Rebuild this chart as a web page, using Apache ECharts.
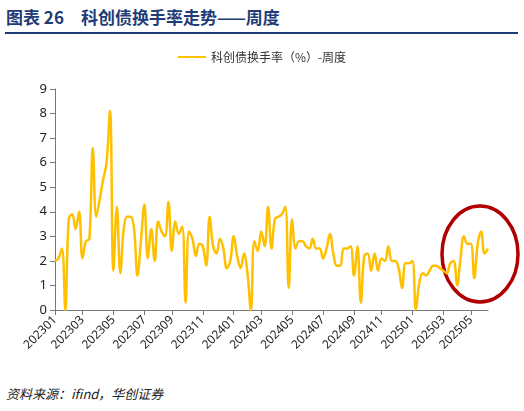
<!DOCTYPE html><html><head><meta charset="utf-8"><script src="https://cdn.jsdelivr.net/npm/echarts@6/dist/echarts.min.js"></script>
<style>body{margin:0;background:#fff}#t{position:absolute;left:6px;top:4px;font:bold 17px "Noto Sans CJK SC";color:#1f3c78}#l{position:absolute;left:5px;top:32px;width:513px;border-top:2px solid #1f3c78}#s{position:absolute;left:6px;top:384px;font:italic 13px "Noto Sans CJK SC";color:#222}#c{position:absolute;left:0;top:34px;width:524px;height:350px}</style></head><body>
<div id="t">图表 26　科创债换手率走势——周度</div><div id="l"></div><div id="c"></div><div id="s">资料来源：ifind，华创证券</div>
<script>
const seriesName='科创债换手率（%）-周度';
const values=[2.0,2.1,2.5,0.0,3.7,3.9,3.3,4.0,2.1,2.8,2.9,6.6,3.8,4.5,5.3,6.0,8.1,1.6,4.2,1.5,3.3,3.8,3.8,3.3,1.4,2.8,4.3,2.1,3.3,2.0,3.6,3.2,3.0,4.4,2.4,3.6,3.1,3.4,0.3,3.2,2.9,2.2,2.7,2.6,1.8,3.8,2.6,2.3,2.9,2.5,1.7,2.0,3.0,2.2,1.7,2.3,1.5,0.0,2.8,2.4,3.2,2.6,4.2,2.5,3.7,3.8,3.9,4.2,0.9,3.7,2.5,2.8,2.8,2.6,2.5,2.9,2.5,2.5,2.1,2.5,3.1,2.3,1.8,1.8,2.5,2.5,2.6,1.4,2.6,0.3,2.2,2.3,1.6,2.3,1.6,2.1,2.0,2.6,2.0,2.0,1.7,0.9,1.9,1.9,2.0,0.0,1.1,1.5,1.4,1.6,1.8,1.8,1.7,1.6,1.5,1.9,2.0,1.0,2.1,3.0,2.7,2.7,1.3,2.7,3.2,2.3,2.5];
const start=new Date(2023,0,6);const cats=values.map((v,i)=>{const d=new Date(start.getTime()+i*7*864e5);return d.getFullYear()+String(d.getMonth()+1).padStart(2,'0')+String(d.getDate()).padStart(2,'0');});
const shown={};const labIdx=new Set();cats.forEach((c,i)=>{const ym=c.slice(0,6);const m=+c.slice(4,6);if(!shown[ym]&&m%2===1){shown[ym]=1;labIdx.add(i);}});
const ch=echarts.init(document.getElementById('c'));
ch.setOption({animation:false,
legend:{top:12,data:[seriesName],textStyle:{fontFamily:'Noto Sans CJK SC',fontSize:12,color:'#333'},itemWidth:28,itemHeight:2,icon:'rect'},
grid:{left:55,right:36,top:55,bottom:74},
xAxis:{type:'category',data:cats,boundaryGap:false,axisLine:{lineStyle:{color:'#777'}},axisTick:{interval:(i)=>labIdx.has(i),lineStyle:{color:'#777'}},axisLabel:{interval:(i)=>labIdx.has(i),formatter:v=>v.slice(0,6),rotate:45,color:'#222',fontSize:12,fontFamily:'Noto Sans'}},
yAxis:{type:'value',min:0,max:9,interval:1,splitLine:{show:false},axisLine:{show:true,lineStyle:{color:'#777'}},axisTick:{show:true},axisLabel:{color:'#222',fontSize:13,fontFamily:'Noto Sans'}},
series:[{name:seriesName,type:'line',data:values,smooth:0.4,showSymbol:false,lineStyle:{color:'#ffc000',width:2.5},itemStyle:{color:'#ffc000'}}],
graphic:[{type:'ellipse',shape:{cx:480,cy:220,rx:38,ry:48},style:{fill:'none',stroke:'#b00000',lineWidth:3.5}}]});
</script></body></html>
